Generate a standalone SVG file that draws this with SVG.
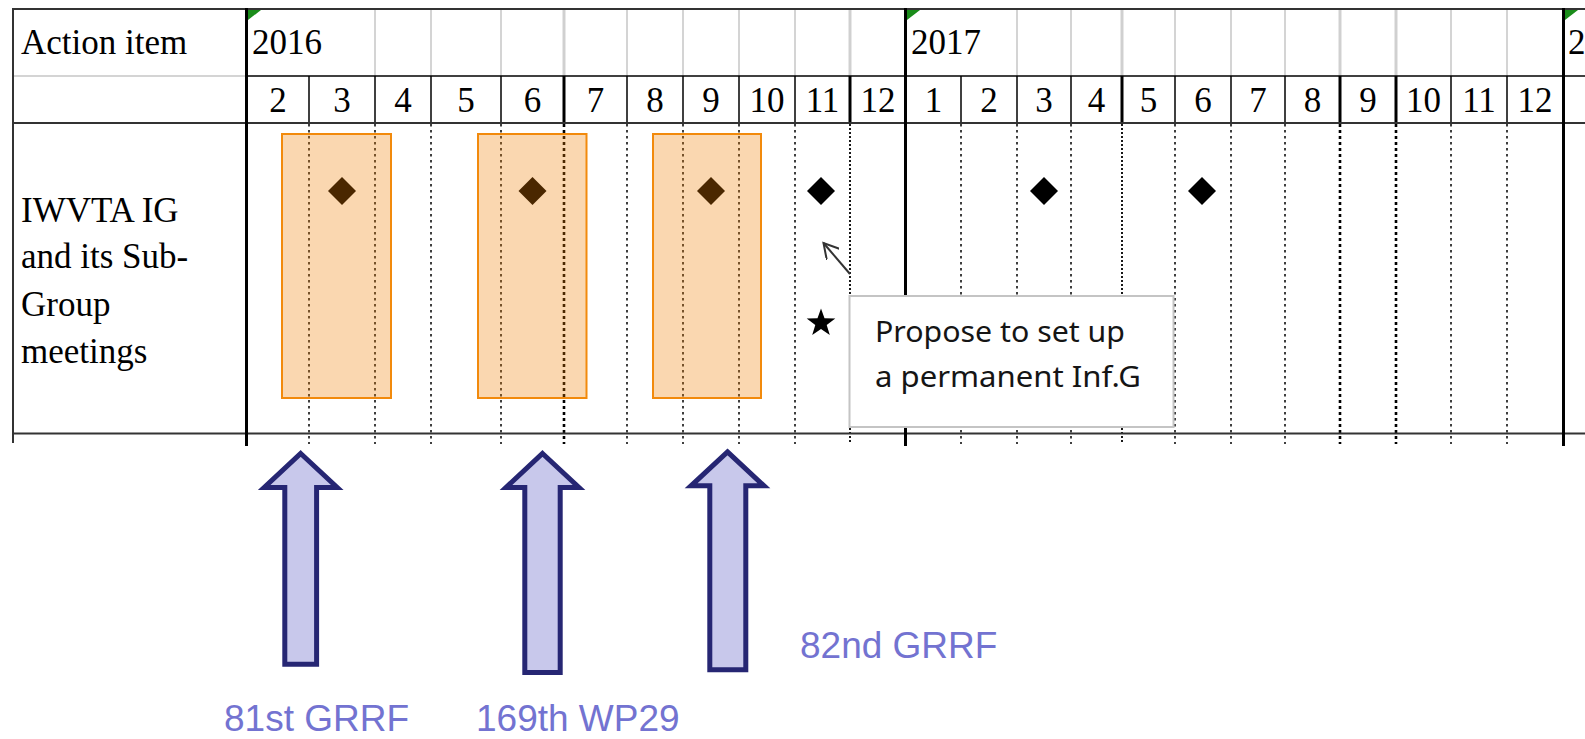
<svg xmlns="http://www.w3.org/2000/svg" width="1585" height="739" viewBox="0 0 1585 739">
<style>
.bg{fill:#ffffff}
.hb{stroke:#333333;stroke-width:2;fill:none}
.yr{stroke:#000000;stroke-width:3;fill:none}
.gr{stroke:#d4d4d4;stroke-width:2;fill:none}
.grh{stroke:#d0d0d0;stroke-width:3;fill:none}
.ms{stroke:#000000;stroke-width:1.5;fill:none}
.msh{stroke:#000000;stroke-width:3;fill:none}
.dt{stroke:#000000;stroke-width:1.5;stroke-dasharray:2.5 3.5;fill:none}
.dth{stroke:#000000;stroke-width:2.6;stroke-dasharray:3 3;fill:none}
.dtw{stroke:#000000;stroke-width:1.8;stroke-dasharray:2 2;fill:none}
.tt{font-family:"Liberation Serif","Times New Roman",serif;font-size:35px;fill:#000000}
.mn{font-family:"Liberation Serif","Times New Roman",serif;font-size:35px;fill:#000000;text-anchor:middle}
.gt{fill:#1a8c1a}
.ob{fill:#ef7f00;fill-opacity:0.31;stroke:#f28a0c;stroke-width:2}
.dm{fill:#000000}
.co{fill:#ffffff;stroke:#c4c4c4;stroke-width:2}
.ct{font-family:"Noto Sans","Open Sans",sans-serif;font-size:29px;fill:#151515}
.ba{fill:#c8c8eb;stroke:#262673;stroke-width:5;stroke-linejoin:miter}
.bl{font-family:"Liberation Sans",Arial,sans-serif;font-size:37px;fill:#7373d1}
.pt{stroke:#333333;stroke-width:2;fill:none}
</style>
<defs>
<path id="dia" d="M0,-14 L14,0 L0,14 L-14,0 Z"/>
<marker id="openhead" viewBox="0 0 17 17" refX="15" refY="8.5" markerWidth="17" markerHeight="17" markerUnits="userSpaceOnUse" orient="auto">
<path d="M0,0 L15,8.5 L0,17" fill="none" stroke="#333333" stroke-width="2"/>
</marker>
</defs>
<rect class="bg" x="0" y="0" width="1585" height="739"/>

<g id="table-grid">
<line class="gr" x1="375" y1="10" x2="375" y2="76"/>
<line class="gr" x1="431" y1="10" x2="431" y2="76"/>
<line class="gr" x1="501" y1="10" x2="501" y2="76"/>
<line class="grh" x1="564" y1="10" x2="564" y2="76"/>
<line class="gr" x1="627" y1="10" x2="627" y2="76"/>
<line class="gr" x1="683" y1="10" x2="683" y2="76"/>
<line class="gr" x1="739" y1="10" x2="739" y2="76"/>
<line class="gr" x1="795" y1="10" x2="795" y2="76"/>
<line class="grh" x1="850" y1="10" x2="850" y2="76"/>
<line class="gr" x1="1017" y1="10" x2="1017" y2="76"/>
<line class="gr" x1="1071" y1="10" x2="1071" y2="76"/>
<line class="grh" x1="1122" y1="10" x2="1122" y2="76"/>
<line class="gr" x1="1175" y1="10" x2="1175" y2="76"/>
<line class="gr" x1="1231" y1="10" x2="1231" y2="76"/>
<line class="gr" x1="1285" y1="10" x2="1285" y2="76"/>
<line class="grh" x1="1340" y1="10" x2="1340" y2="76"/>
<line class="grh" x1="1396" y1="10" x2="1396" y2="76"/>
<line class="gr" x1="1451" y1="10" x2="1451" y2="76"/>
<line class="gr" x1="1507" y1="10" x2="1507" y2="76"/>
<line class="gr" x1="13" y1="76" x2="247" y2="76"/>
<line class="ms" x1="309" y1="76" x2="309" y2="123"/>
<line class="ms" x1="375" y1="76" x2="375" y2="123"/>
<line class="ms" x1="431" y1="76" x2="431" y2="123"/>
<line class="ms" x1="501" y1="76" x2="501" y2="123"/>
<line class="msh" x1="564" y1="76" x2="564" y2="123"/>
<line class="ms" x1="627" y1="76" x2="627" y2="123"/>
<line class="ms" x1="683" y1="76" x2="683" y2="123"/>
<line class="ms" x1="739" y1="76" x2="739" y2="123"/>
<line class="ms" x1="795" y1="76" x2="795" y2="123"/>
<line class="msh" x1="850" y1="76" x2="850" y2="123"/>
<line class="ms" x1="961" y1="76" x2="961" y2="123"/>
<line class="ms" x1="1017" y1="76" x2="1017" y2="123"/>
<line class="ms" x1="1071" y1="76" x2="1071" y2="123"/>
<line class="msh" x1="1122" y1="76" x2="1122" y2="123"/>
<line class="ms" x1="1175" y1="76" x2="1175" y2="123"/>
<line class="ms" x1="1231" y1="76" x2="1231" y2="123"/>
<line class="ms" x1="1285" y1="76" x2="1285" y2="123"/>
<line class="msh" x1="1340" y1="76" x2="1340" y2="123"/>
<line class="msh" x1="1396" y1="76" x2="1396" y2="123"/>
<line class="ms" x1="1451" y1="76" x2="1451" y2="123"/>
<line class="ms" x1="1507" y1="76" x2="1507" y2="123"/>
<line class="dt" x1="309" y1="124" x2="309" y2="444"/>
<line class="dt" x1="375" y1="124" x2="375" y2="444"/>
<line class="dt" x1="431" y1="124" x2="431" y2="444"/>
<line class="dt" x1="501" y1="124" x2="501" y2="444"/>
<line class="dth" x1="564" y1="124" x2="564" y2="444"/>
<line class="dt" x1="627" y1="124" x2="627" y2="444"/>
<line class="dt" x1="683" y1="124" x2="683" y2="444"/>
<line class="dt" x1="739" y1="124" x2="739" y2="444"/>
<line class="dt" x1="795" y1="124" x2="795" y2="444"/>
<line class="dtw" x1="850" y1="124" x2="850" y2="444"/>
<line class="dt" x1="961" y1="124" x2="961" y2="444"/>
<line class="dt" x1="1017" y1="124" x2="1017" y2="444"/>
<line class="dt" x1="1071" y1="124" x2="1071" y2="444"/>
<line class="dtw" x1="1122" y1="124" x2="1122" y2="444"/>
<line class="dt" x1="1175" y1="124" x2="1175" y2="444"/>
<line class="dt" x1="1231" y1="124" x2="1231" y2="444"/>
<line class="dt" x1="1285" y1="124" x2="1285" y2="444"/>
<line class="dth" x1="1340" y1="124" x2="1340" y2="444"/>
<line class="dth" x1="1396" y1="124" x2="1396" y2="444"/>
<line class="dt" x1="1451" y1="124" x2="1451" y2="444"/>
<line class="dt" x1="1507" y1="124" x2="1507" y2="444"/>
<line class="hb" x1="12" y1="9" x2="1585" y2="9"/>
<line class="ms" x1="247" y1="76" x2="1585" y2="76"/>
<line class="hb" x1="12" y1="123" x2="1585" y2="123"/>
<line class="hb" x1="12" y1="433.5" x2="1585" y2="433.5"/>
<line class="hb" x1="13" y1="8" x2="13" y2="443"/>
<line class="yr" x1="246.5" y1="8" x2="246.5" y2="446"/>
<line class="yr" x1="905.5" y1="8" x2="905.5" y2="446"/>
<line class="yr" x1="1563.5" y1="8" x2="1563.5" y2="446"/>
<path class="gt" d="M248,10 L261,10 L248,20 Z"/>
<path class="gt" d="M907,10 L920,10 L907,20 Z"/>
<path class="gt" d="M1565,10 L1578,10 L1565,20 Z"/>
</g>

<g id="header">
<text class="tt" x="21" y="54">Action item</text>
<text class="tt" x="252" y="54">2016</text>
<text class="tt" x="911" y="54">2017</text>
<text class="tt" x="1568" y="54">2</text>
<text class="mn" x="278" y="112">2</text>
<text class="mn" x="342" y="112">3</text>
<text class="mn" x="403" y="112">4</text>
<text class="mn" x="466" y="112">5</text>
<text class="mn" x="532.5" y="112">6</text>
<text class="mn" x="595.5" y="112">7</text>
<text class="mn" x="655" y="112">8</text>
<text class="mn" x="711" y="112">9</text>
<text class="mn" x="767" y="112">10</text>
<text class="mn" x="822.5" y="112">11</text>
<text class="mn" x="878" y="112">12</text>
<text class="mn" x="933.5" y="112">1</text>
<text class="mn" x="989" y="112">2</text>
<text class="mn" x="1044" y="112">3</text>
<text class="mn" x="1096.5" y="112">4</text>
<text class="mn" x="1148.5" y="112">5</text>
<text class="mn" x="1203" y="112">6</text>
<text class="mn" x="1258" y="112">7</text>
<text class="mn" x="1312.5" y="112">8</text>
<text class="mn" x="1368" y="112">9</text>
<text class="mn" x="1423.5" y="112">10</text>
<text class="mn" x="1479" y="112">11</text>
<text class="mn" x="1535" y="112">12</text>
</g>

<g id="row-label">
<text class="tt" x="21" y="222">IWVTA IG</text>
<text class="tt" x="21" y="268">and its Sub-</text>
<text class="tt" x="21" y="316">Group</text>
<text class="tt" x="21" y="363">meetings</text>
</g>

<g id="milestones">
<use href="#dia" class="dm" x="342" y="191"/>
<use href="#dia" class="dm" x="532.5" y="191"/>
<use href="#dia" class="dm" x="711" y="191"/>
<use href="#dia" class="dm" x="821" y="191"/>
<use href="#dia" class="dm" x="1044" y="191"/>
<use href="#dia" class="dm" x="1202" y="191"/>
</g>

<g id="star">
<path class="dm" d="M821,308.5 L824.5,318.2 L835.3,318.4 L826.7,324.9 L829.8,335.1 L821,329 L812.2,335.1 L815.3,324.9 L806.7,318.4 L817.5,318.2 Z"/>
</g>

<g id="period-1"><rect class="ob" x="282" y="134" width="109" height="264"/></g>
<g id="period-2"><rect class="ob" x="478" y="134" width="108.5" height="264"/></g>
<g id="period-3"><rect class="ob" x="653" y="134" width="108" height="264"/></g>

<g id="callout">
<rect class="co" x="849.5" y="296" width="324" height="131"/>
<text class="ct" x="875" y="342" textLength="250" lengthAdjust="spacingAndGlyphs">Propose to set up</text>
<text class="ct" x="875" y="387" textLength="266" lengthAdjust="spacingAndGlyphs">a permanent Inf.G</text>
</g>

<g id="arrow-81st-grrf">
<path class="ba" d="M300.7,453.5 L337.2,487.5 L316.6,487.5 L316.6,664.2 L284.8,664.2 L284.8,487.5 L264.2,487.5 Z"/>
<text class="bl" x="224" y="731">81st GRRF</text>
</g>
<g id="arrow-169th-wp29">
<path class="ba" d="M542.5,453.5 L579,487.5 L560.2,487.5 L560.2,672.5 L524.8,672.5 L524.8,487.5 L506,487.5 Z"/>
<text class="bl" x="476" y="731">169th WP29</text>
</g>
<g id="arrow-82nd-grrf">
<path class="ba" d="M727.5,451.8 L764,485.8 L745.8,485.8 L745.8,669.8 L709.8,669.8 L709.8,485.8 L691,485.8 Z"/>
<text class="bl" x="800" y="658">82nd GRRF</text>
</g>

<g id="connectors">
<line class="pt" x1="850" y1="274" x2="823.5" y2="243" marker-end="url(#openhead)"/>
</g>
</svg>
